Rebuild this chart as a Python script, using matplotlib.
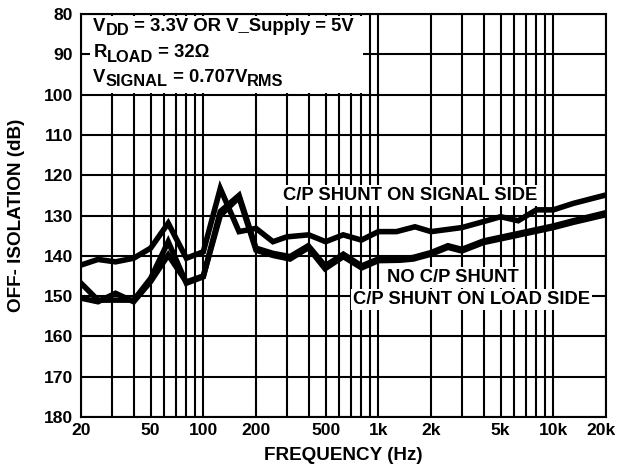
import matplotlib
matplotlib.use("Agg")
import matplotlib.pyplot as plt
from matplotlib.patches import Rectangle
from matplotlib.transforms import ScaledTranslation

plt.rcParams['font.family'] = ['Liberation Sans', 'DejaVu Sans']
plt.rcParams['font.weight'] = 'bold'

# ---- data ----
freq_signal = [20, 25, 31.5, 40, 50, 63, 80, 100, 125, 160, 200, 250, 300, 400, 500,
               630, 800, 1000, 1270, 1620, 2000, 3000, 4000, 5000, 6300, 8000, 10000,
               13000, 20000]
db_signal = [142.3, 140.9, 141.5, 140.6, 138.1, 131.9, 140.6, 139.0, 123.3, 134.0,
             133.2, 136.5, 135.3, 134.8, 136.5, 134.8, 136.1, 134.0, 134.0, 132.8,
             134.0, 133.0, 131.5, 130.3, 131.3, 128.6, 128.6, 127.0, 124.9]

freq_noshunt = [20, 25, 31.5, 40, 50, 63, 80, 100, 125, 160, 200, 250, 313, 398, 496,
                631, 803, 1000, 1330, 1585, 2000, 2500, 3000, 4000, 6100, 10000,
                13000, 20000]
db_noshunt = [146.8, 151.0, 151.0, 151.0, 145.6, 136.5, 146.8, 145.2, 129.0, 125.0,
              138.1, 139.4, 140.2, 137.5, 142.5, 139.6, 142.5, 140.8, 140.8, 140.4,
              139.2, 137.5, 138.4, 136.3, 134.6, 132.6, 131.3, 129.3]

freq_load = [20, 25, 31.5, 40, 50, 63, 80, 100, 125, 160, 200, 250, 313, 398, 496,
             631, 803, 1000, 1330, 1585, 2000, 2500, 3000, 4000, 6100, 10000,
             13000, 20000]
db_load = [150.5, 151.4, 149.3, 151.4, 146.4, 139.8, 146.5, 145.0, 130.0, 125.5,
           138.6, 139.9, 140.8, 138.0, 143.2, 140.2, 143.0, 141.2, 141.1, 140.8,
           139.6, 137.9, 138.8, 136.7, 135.0, 133.0, 131.7, 129.8]

xtick_vals = [20, 50, 100, 200, 500, 1000, 2000, 5000, 10000, 20000]
xtick_labels = ['20', '50', '100', '200', '500', '1k', '2k', '5k', '10k', '20k']
xminor_vals = [30, 40, 60, 70, 80, 90, 300, 400, 600, 700, 800, 900,
               3000, 4000, 6000, 7000, 8000, 9000]
ytick_vals = [80, 90, 100, 110, 120, 130, 140, 150, 160, 170, 180]

cond_lines = [
    [('V', False), ('DD', True), (' = 3.3V OR V_Supply = 5V', False)],
    [('R', False), ('LOAD', True), (' = 32Ω', False)],
    [('V', False), ('SIGNAL', True), (' = 0.707V', False), ('RMS', True)],
]

fig = plt.figure(figsize=(6.18, 4.76), dpi=100)
ax = fig.add_axes([81/618, 1-417/476, (606-81)/618, (417-14)/476])
ax.set_xscale('log')
ax.set_xlim(20, 20000)
ax.set_ylim(180, 80)

ax.set_xticks(xtick_vals)
ax.set_xticklabels(xtick_labels)
ax.set_xticks(xminor_vals, minor=True)
ax.set_xticklabels([], minor=True)
ax.set_yticks(ytick_vals)
ax.set_yticklabels([str(v) for v in ytick_vals])
ax.tick_params(which='both', length=0, labelsize=12.6)
ax.tick_params(axis='y', pad=6)
ax.tick_params(axis='x', pad=4)
for lab in ax.get_xticklabels() + ax.get_yticklabels():
    lab.set_fontweight('bold')

glw = 1.5
ax.grid(True, which='both', axis='x', color='black', linewidth=glw, zorder=1)
ax.grid(True, which='major', axis='y', color='black', linewidth=glw, zorder=1)
ax.set_axisbelow(True)
for sp in ax.spines.values():
    sp.set_linewidth(glw)

lw = 4.0
for fx, dy in [(freq_signal, db_signal), (freq_noshunt, db_noshunt), (freq_load, db_load)]:
    ax.plot(fx, dy, color='black', linewidth=lw, solid_joinstyle='miter', zorder=3)

# white condition box
ax.add_patch(Rectangle((22.5, 80.4), 818 - 22.5, 19.3, facecolor='white',
                       edgecolor='none', zorder=2))

fig.canvas.draw()
renderer = fig.canvas.get_renderer()

# keep the last x tick label inside the figure
last = ax.get_xticklabels()[-1]
last.set_horizontalalignment('right')
last.set_transform(last.get_transform() + ScaledTranslation(10/100, 0, fig.dpi_scale_trans))

fs = 13.3
sub_fs = 11.8
sub_drop = 4.5 / 100  # inches
baselines = [84.1, 90.75, 96.8]
for segs, yb in zip(cond_lines, baselines):
    dx = 0.0
    for s, is_sub in segs:
        off = ScaledTranslation(dx, -sub_drop if is_sub else 0.0, fig.dpi_scale_trans)
        t = ax.text(23.5, yb, s, fontsize=sub_fs if is_sub else fs, fontweight='bold',
                    va='baseline', ha='left', zorder=4, transform=ax.transData + off)
        w = t.get_window_extent(renderer=renderer).width
        dx += w / fig.dpi

bb = dict(facecolor='white', edgecolor='none', pad=1.5)
lfs = 13.2
ax.text(1518, 125.0, 'C/P SHUNT ON SIGNAL SIDE', fontsize=lfs, fontweight='bold',
        ha='center', va='center', bbox=bb, zorder=4)
ax.text(2670, 145.3, 'NO C/P SHUNT', fontsize=lfs, fontweight='bold',
        ha='center', va='center', bbox=bb, zorder=4)
ax.text(3393, 150.8, 'C/P SHUNT ON LOAD SIDE', fontsize=lfs, fontweight='bold',
        ha='center', va='center', bbox=bb, zorder=4)

fig.text(343.5/618, 1-455/476, 'FREQUENCY (Hz)', fontsize=13.6, fontweight='bold',
         ha='center', va='center')
fig.text(17/618, 1-215/476, 'OFF- ISOLATION (dB)', fontsize=13.6, fontweight='bold',
         ha='center', va='center', rotation=90)

fig.savefig('out.png', dpi=100)
